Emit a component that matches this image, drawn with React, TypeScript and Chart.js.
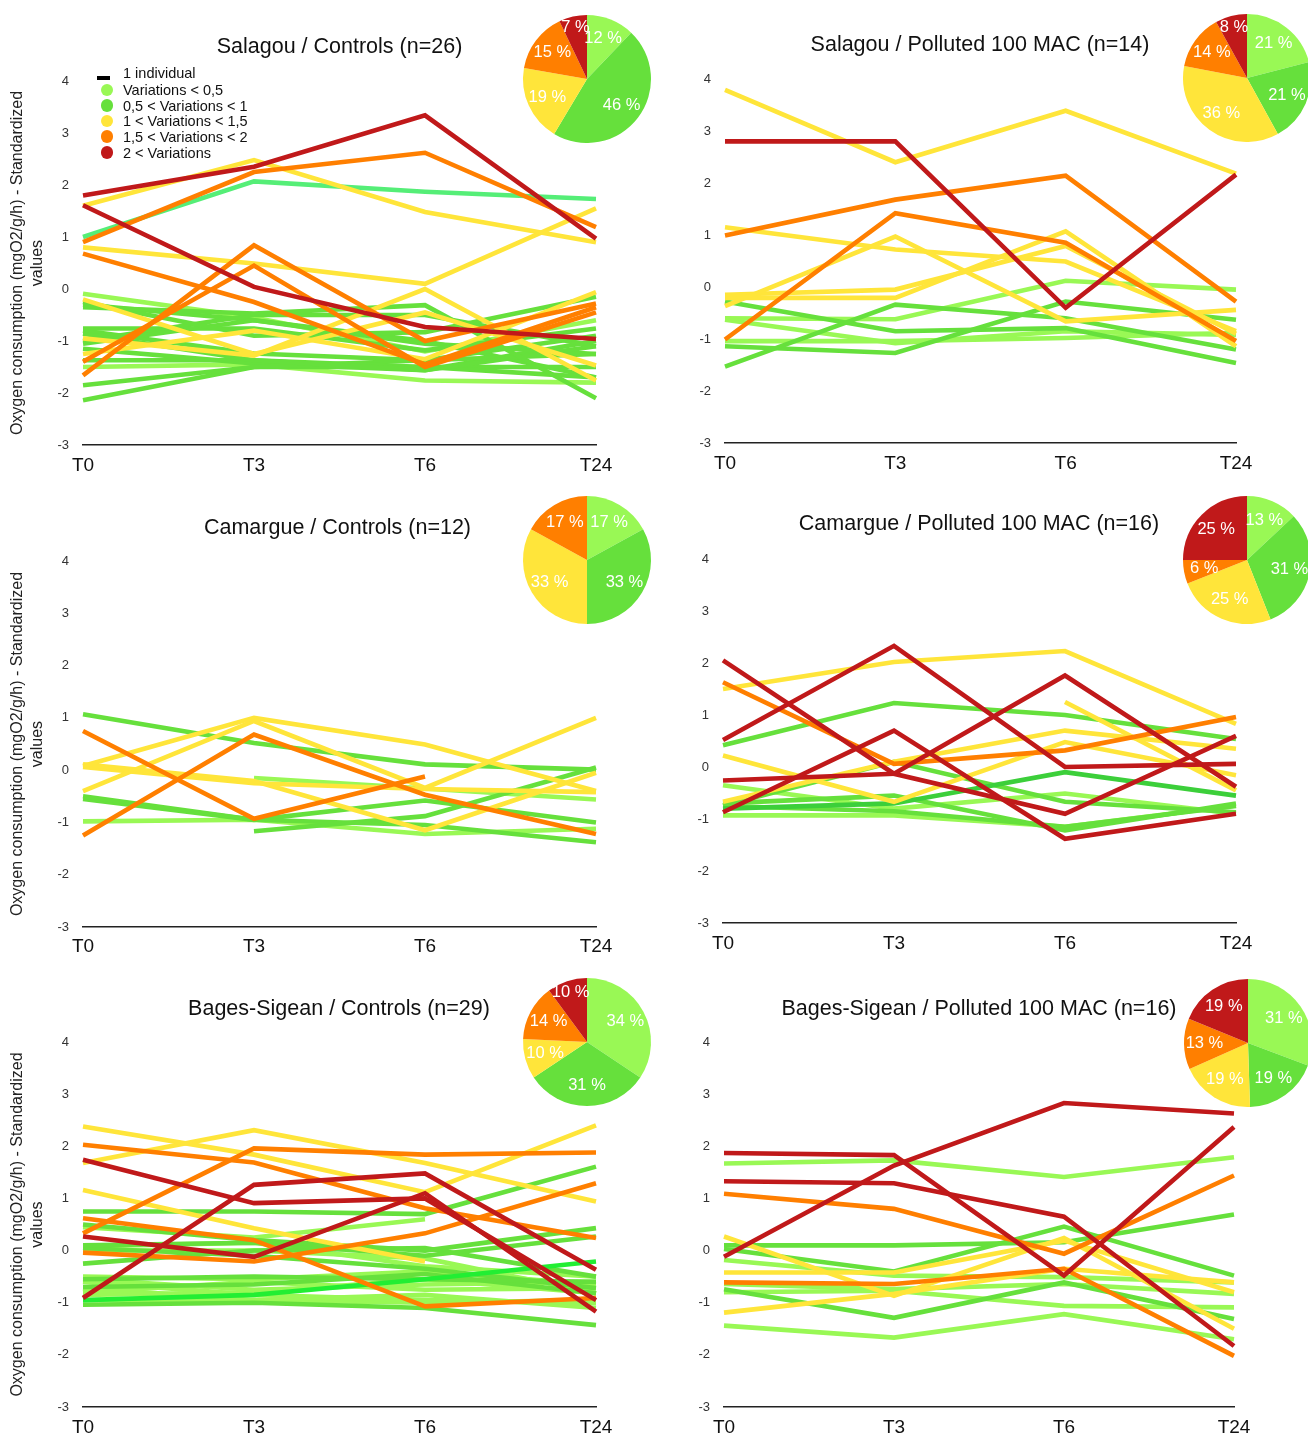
import React, { useEffect, useRef } from "react";
import { Chart, registerables } from "chart.js";

Chart.register(...registerables);

const FONT = '"Liberation Sans", Arial, Helvetica, sans-serif';
Chart.defaults.font.family = FONT;

// ---------- shared labels ----------
const timeLabels = ["T0", "T3", "T6", "T24"];
const yMin = -3;
const yMax = 4;
const yTitleLines = ["Oxygen consumption (mgO2/g/h) - Standardized", "values"];
const legendFirst = "1 individual";
const classLabels = [
  "Variations < 0,5",
  "0,5 < Variations < 1",
  "1 < Variations < 1,5",
  "1,5 < Variations < 2",
  "2 < Variations",
];
const classColors = ["#99F855", "#66E03C", "#FFE53A", "#FF7F00", "#C0191A"];
const tealColor = "#55EE77";
const brightGreenColor = "#22EE33";
const deepGreenColor = "#3CCF3A";

// ---------- Salagou / Controls (n=26) ----------
const salagouCtrlTitle = "Salagou / Controls (n=26)";
const salagouCtrlRed = [
  [1.8, 2.35, 3.34, 0.97],
  [1.61, 0.04, -0.73, -0.96],
];
const salagouCtrlOrange = [
  [0.9, 2.25, 2.62, 1.19],
  [0.68, -0.25, -1.45, -0.35],
  [-1.66, 0.84, -1.0, -0.28],
  [-1.4, 0.45, -1.5, -0.45],
];
const salagouCtrlYellow = [
  [1.6, 2.48, 1.48, 0.9],
  [0.8, 0.49, 0.1, 1.55],
  [-0.2, -1.25, -0.45, -1.47],
  [-1.25, -0.8, -1.35, -0.06],
  [-0.95, -1.28, 0.0, -1.76],
];
const salagouCtrlGreen = [
  [-0.35, -0.47, -0.31, -2.1],
  [-0.25, -0.9, -0.83, -0.15],
  [-0.76, -0.76, -1.18, -0.76],
  [-0.86, -1.37, -1.56, -1.1],
  [-1.05, -0.6, -1.05, -1.25],
  [-1.37, -1.37, -1.5, -1.7],
  [-1.85, -1.5, -1.37, -1.25],
  [-2.14, -1.5, -1.5, -1.5],
  [-0.8, -1.24, -1.37, -0.9],
  [-1.0, -0.5, -0.5, -1.1],
  [-0.3, -0.6, -1.0, -1.7],
  [-1.15, -1.43, -1.56, -1.0],
];
const salagouCtrlLight = [
  [-0.09, -0.55, -1.2, -0.6],
  [-1.5, -1.45, -1.76, -1.8],
];
const salagouCtrlTeal = [[1.0, 2.07, 1.87, 1.73]];
const salagouCtrlPie = [12, 46, 19, 15, 7];

// ---------- Salagou / Polluted 100 MAC (n=14) ----------
const salagouPollTitle = "Salagou / Polluted 100 MAC (n=14)";
const salagouPollRed = [[2.8, 2.8, -0.4, 2.16]];
const salagouPollOrange = [
  [0.99, 1.68, 2.14, -0.28],
  [-1.01, 1.42, 0.85, -1.04],
];
const salagouPollYellow = [
  [3.79, 2.4, 3.39, 2.18],
  [1.15, 0.72, 0.49, -0.85],
  [-0.37, 0.97, -0.66, -0.44],
  [-0.15, -0.05, 0.79, -0.9],
  [-0.21, -0.21, 1.07, -1.14],
];
const salagouPollGreen = [
  [-0.28, -0.85, -0.79, -1.46],
  [-1.14, -1.27, -0.28, -0.63],
  [-1.53, -0.34, -0.6, -1.2],
];
const salagouPollLight = [
  [-0.6, -0.62, 0.12, -0.05],
  [-1.04, -1.04, -0.98, -0.88],
  [-0.63, -1.08, -0.85, -0.92],
];
const salagouPollPie = [21, 21, 36, 14, 8];

// ---------- Camargue / Controls (n=12) ----------
const camargueCtrlTitle = "Camargue / Controls (n=12)";
const camargueCtrlRed: (number | null)[][] = [];
const camargueCtrlOrange = [
  [0.75, -0.93, -0.12, null],
  [-1.25, 0.68, -0.47, -1.22],
];
const camargueCtrlYellow = [
  [0.08, 1.0, 0.49, -0.4],
  [-0.4, 0.94, -0.34, 1.0],
  [0.11, -0.21, -1.15, -0.05],
  [0.06, -0.25, -0.36, -0.42],
];
const camargueCtrlGreen = [
  [1.07, 0.52, 0.11, 0.01],
  [-0.5, -0.95, -1.05, -1.38],
  [-0.55, -0.95, -0.58, -1.0],
  [null, -1.17, -0.88, 0.05],
];
const camargueCtrlLight = [
  [-0.98, -0.95, -1.22, -1.12],
  [null, -0.15, -0.35, -0.56],
];
const camargueCtrlPie = [17, 33, 33, 17, 0];

// ---------- Camargue / Polluted 100 MAC (n=16) ----------
const camarguePollTitle = "Camargue / Polluted 100 MAC (n=16)";
const camarguePollRed = [
  [2.05, -0.13, -0.9, 0.6],
  [0.52, 2.33, 0.0, 0.06],
  [-0.87, 0.7, -1.38, -0.9],
  [-0.26, -0.13, 1.76, -0.38],
];
const camarguePollOrange = [[1.63, 0.06, 0.32, 0.96]];
const camarguePollYellow = [
  [1.5, 2.02, 2.23, 0.83],
  [0.22, -0.67, 0.48, -0.16],
  [-0.67, 0.1, 0.7, 0.35],
  [null, null, 1.25, -0.45],
];
const camarguePollGreen = [
  [0.42, 1.23, 1.0, 0.54],
  [-0.7, -0.55, -1.22, -0.7],
  [-0.74, 0.1, -0.67, -0.87],
  [-0.75, -0.85, -1.15, -0.75],
];
const camarguePollDeep = [[-0.8, -0.7, -0.1, -0.55]];
const camarguePollLight = [
  [-0.35, -0.8, -0.51, -0.9],
  [-0.93, -0.93, -1.15, -0.74],
];
const camarguePollPie = [13, 31, 25, 6, 25];

// ---------- Bages-Sigean / Controls (n=29) ----------
const bagesCtrlTitle = "Bages-Sigean / Controls (n=29)";
const bagesCtrlRed = [
  [1.74, 0.91, 1.0, -0.95],
  [0.27, -0.12, 1.1, -1.17],
  [-0.91, 1.26, 1.48, -0.37],
];
const bagesCtrlOrange = [
  [2.03, 1.69, 0.81, 0.24],
  [0.33, 1.96, 1.84, 1.88],
  [0.62, 0.2, -1.07, -0.91],
  [-0.04, -0.21, 0.33, 1.29],
];
const bagesCtrlYellow = [
  [2.38, 1.84, 1.12, 2.4],
  [1.68, 2.31, 1.68, 0.94],
  [1.16, 0.43, -0.21, null],
];
const bagesCtrlGreen = [
  [0.75, 0.75, 0.7, 1.61],
  [0.5, 0.2, 0.0, 0.43],
  [0.1, 0.15, -0.1, 0.27],
  [-0.25, 0.0, 0.05, -0.5],
  [-0.55, -0.5, -0.55, -0.6],
  [-1.04, -1.0, -1.1, -1.43],
  [0.05, -0.1, -0.35, -0.72],
  [-0.7, -0.65, -0.45, -0.82],
];
const bagesCtrlBright = [[-0.95, -0.85, -0.55, -0.21]];
const bagesCtrlLight = [
  [0.45, 0.25, 0.6, null],
  [0.08, 0.15, -0.3, -0.5],
  [0.0, 0.0, -0.15, -0.82],
  [-0.55, -0.75, -0.65, -0.6],
  [-0.6, -0.85, -0.95, -1.01],
  [-0.8, -0.6, -0.75, -0.72],
  [-0.72, -0.95, -0.85, -1.1],
  [-0.85, -0.8, -0.55, -0.82],
  [-0.95, -0.95, -1.0, -0.95],
  [-0.5, -0.55, -0.4, -0.65],
];
const bagesCtrlPie = [34, 31, 10, 14, 10];

// ---------- Bages-Sigean / Polluted 100 MAC (n=16) ----------
const bagesPollTitle = "Bages-Sigean / Polluted 100 MAC (n=16)";
const bagesPollRed = [
  [-0.12, 1.63, 2.83, 2.63],
  [1.87, 1.83, -0.48, 2.37],
  [1.33, 1.29, 0.65, -1.83],
];
const bagesPollOrange = [
  [1.09, 0.8, -0.06, 1.44],
  [-0.61, -0.64, -0.35, -2.02],
];
const bagesPollYellow = [
  [0.27, -0.87, 0.24, -1.5],
  [-1.19, -0.83, -0.35, -0.61],
  [-0.42, -0.42, 0.19, -0.8],
];
const bagesPollGreen = [
  [0.1, 0.1, 0.16, 0.69],
  [0.03, -0.4, 0.46, -0.48],
  [-0.74, -1.29, -0.61, -1.31],
];
const bagesPollLight = [
  [1.67, 1.73, 1.41, 1.79],
  [-0.18, -0.48, -0.51, -0.61],
  [-0.64, -0.74, -0.64, -0.83],
  [-0.8, -0.77, -1.06, -1.09],
  [-1.44, -1.67, -1.22, -1.7],
];
const bagesPollPie = [31, 19, 19, 13, 19];

// ---------- layout ----------
type Group = { color: string; lines: (number | null)[][] };

type PanelDef = {
  title: string;
  groups: Group[];
  pie: number[];
  x: number;
  y: number;
  h: number;
  yW: number;
  padR: number;
  padT: number;
  xH: number;
  xPad: number;
  yTitle: boolean;
  titleX: number;
  titleY: number;
  pieX: number;
  pieY: number;
};

const grp = (red, orange, yellow, green, light, extra: Group[] = []): Group[] => [
  { color: classColors[4], lines: red },
  { color: classColors[3], lines: orange },
  { color: classColors[2], lines: yellow },
  ...extra,
  { color: classColors[1], lines: green },
  { color: classColors[0], lines: light },
];

const panels: PanelDef[] = [
  {
    title: salagouCtrlTitle,
    groups: grp(salagouCtrlRed, salagouCtrlOrange, salagouCtrlYellow, salagouCtrlGreen, salagouCtrlLight, [
      { color: tealColor, lines: salagouCtrlTeal },
    ]),
    pie: salagouCtrlPie,
    x: 0, y: 0, h: 480, yW: 83, padR: 58, padT: 81, xH: 35, xPad: 9.5, yTitle: true,
    titleX: 339.5, titleY: 46, pieX: 587, pieY: 79,
  },
  {
    title: salagouPollTitle,
    groups: grp(salagouPollRed, salagouPollOrange, salagouPollYellow, salagouPollGreen, salagouPollLight),
    pie: salagouPollPie,
    x: 654, y: 0, h: 480, yW: 71, padR: 72, padT: 79, xH: 37, xPad: 9, yTitle: false,
    titleX: 980, titleY: 44, pieX: 1247, pieY: 78,
  },
  {
    title: camargueCtrlTitle,
    groups: grp(camargueCtrlRed, camargueCtrlOrange, camargueCtrlYellow, camargueCtrlGreen, camargueCtrlLight),
    pie: camargueCtrlPie,
    x: 0, y: 480, h: 480, yW: 83, padR: 58, padT: 81, xH: 33, xPad: 8.5, yTitle: true,
    titleX: 337.5, titleY: 527, pieX: 587, pieY: 560,
  },
  {
    title: camarguePollTitle,
    groups: grp(camarguePollRed, camarguePollOrange, camarguePollYellow, camarguePollGreen, camarguePollLight, [
      { color: deepGreenColor, lines: camarguePollDeep },
    ]),
    pie: camarguePollPie,
    x: 654, y: 480, h: 480, yW: 69, padR: 72, padT: 79, xH: 37, xPad: 9, yTitle: false,
    titleX: 979, titleY: 523, pieX: 1247, pieY: 560,
  },
  {
    title: bagesCtrlTitle,
    groups: grp(bagesCtrlRed, bagesCtrlOrange, bagesCtrlYellow, bagesCtrlGreen, bagesCtrlLight, [
      { color: brightGreenColor, lines: bagesCtrlBright },
    ]),
    pie: bagesCtrlPie,
    x: 0, y: 960, h: 477, yW: 83, padR: 58, padT: 82, xH: 30, xPad: 9.8, yTitle: true,
    titleX: 339, titleY: 1008, pieX: 587, pieY: 1042,
  },
  {
    title: bagesPollTitle,
    groups: grp(bagesPollRed, bagesPollOrange, bagesPollYellow, bagesPollGreen, bagesPollLight),
    pie: bagesPollPie,
    x: 654, y: 960, h: 477, yW: 70, padR: 74, padT: 82, xH: 30, xPad: 9.8, yTitle: false,
    titleX: 979, titleY: 1008, pieX: 1248, pieY: 1043,
  },
];

function buildDatasets(groups: Group[]) {
  const out: any[] = [];
  groups.forEach((g) =>
    g.lines.forEach((l) =>
      out.push({
        data: l,
        borderColor: g.color,
        backgroundColor: g.color,
        borderWidth: 4.6,
        pointRadius: 0,
        pointHoverRadius: 0,
        fill: false,
        tension: 0,
        spanGaps: false,
        borderJoinStyle: "miter",
        borderCapStyle: "butt",
      })
    )
  );
  return out;
}

function LinePanel({ p }: { p: PanelDef }) {
  const ref = useRef<HTMLCanvasElement>(null);
  useEffect(() => {
    const chart = new Chart(ref.current!, {
      type: "line",
      data: { labels: timeLabels, datasets: buildDatasets(p.groups) },
      options: {
        responsive: false,
        maintainAspectRatio: false,
        animation: false,
        events: [],
        layout: { padding: { left: 0, right: p.padR, top: p.padT, bottom: 0 } },
        plugins: {
          legend: { display: false },
          title: { display: false },
          tooltip: { enabled: false },
        },
        scales: {
          x: {
            type: "category",
            offset: false,
            grid: { display: false, drawTicks: false },
            border: { display: true, color: "#222", width: 1.5 },
            ticks: {
              font: { size: 19, family: FONT },
              color: "#111",
              padding: p.xPad,
              maxRotation: 0,
              autoSkip: false,
            },
            afterFit: (s: any) => {
              s.height = p.xH;
            },
          },
          y: {
            min: yMin,
            max: yMax,
            grid: { display: false, drawTicks: false },
            border: { display: false },
            ticks: {
              stepSize: 1,
              font: { size: 13, family: FONT },
              color: "#333",
              padding: 14,
            },
            title: p.yTitle
              ? {
                  display: true,
                  text: yTitleLines,
                  font: { size: 16, family: FONT },
                  color: "#222",
                  padding: { top: 8.4, bottom: 0 },
                }
              : { display: false },
            afterFit: (s: any) => {
              s.width = p.yW;
            },
          },
        },
      },
    } as any);
    return () => chart.destroy();
  }, []);
  return (
    <canvas
      ref={ref}
      width={654}
      height={p.h}
      style={{ position: "absolute", left: p.x, top: p.y, width: 654, height: p.h }}
    />
  );
}

const pieLabelPlugin = {
  id: "pieLabels",
  afterDatasetsDraw(chart: any) {
    const ctx = chart.ctx;
    const meta = chart.getDatasetMeta(0);
    const data = chart.data.datasets[0].data as number[];
    meta.data.forEach((arc: any, i: number) => {
      const v = data[i];
      if (!v) return;
      const { x, y, startAngle, endAngle, outerRadius } = arc.getProps(
        ["x", "y", "startAngle", "endAngle", "outerRadius"],
        true
      );
      const mid = (startAngle + endAngle) / 2;
      const small = v <= 10 && Math.sin(mid) < -0.7;
      const rr = outerRadius * (small ? 0.82 : 0.68);
      ctx.save();
      ctx.fillStyle = "#ffffff";
      ctx.font = `16.5px ${FONT}`;
      ctx.textAlign = "center";
      ctx.textBaseline = "middle";
      ctx.fillText(`${v} %`, x + Math.cos(mid) * rr, y + Math.sin(mid) * rr);
      ctx.restore();
    });
  },
};

function PiePanel({ p }: { p: PanelDef }) {
  const ref = useRef<HTMLCanvasElement>(null);
  useEffect(() => {
    const chart = new Chart(ref.current!, {
      type: "pie",
      data: {
        labels: classLabels,
        datasets: [
          {
            data: p.pie,
            backgroundColor: classColors,
            borderWidth: 0,
            hoverOffset: 0,
            offset: 0,
          },
        ],
      },
      options: {
        responsive: false,
        maintainAspectRatio: false,
        animation: false,
        events: [],
        layout: { padding: 0 },
        plugins: { legend: { display: false }, tooltip: { enabled: false } },
      },
      plugins: [pieLabelPlugin],
    } as any);
    return () => chart.destroy();
  }, []);
  return (
    <canvas
      ref={ref}
      width={170}
      height={128}
      style={{ position: "absolute", left: p.pieX - 85, top: p.pieY - 64, width: 170, height: 128 }}
    />
  );
}

function Title({ p }: { p: PanelDef }) {
  return (
    <div
      style={{
        position: "absolute",
        left: p.titleX - 250,
        top: p.titleY - 13,
        width: 500,
        height: 26,
        lineHeight: "26px",
        textAlign: "center",
        fontFamily: FONT,
        fontSize: 21.5,
        color: "#111",
        whiteSpace: "nowrap",
      }}
    >
      {p.title}
    </div>
  );
}

function Legend() {
  const rowY = [90, 105.5, 121, 136.5, 152.5];
  const textStyle: React.CSSProperties = {
    position: "absolute",
    left: 123,
    height: 16,
    lineHeight: "16px",
    fontFamily: FONT,
    fontSize: 14.5,
    color: "#111",
    whiteSpace: "nowrap",
  };
  return (
    <>
      <div style={{ position: "absolute", left: 97, top: 76, width: 13, height: 3.5, background: "#000" }} />
      <div style={{ ...textStyle, top: 72.5 - 8 }}>{legendFirst}</div>
      {classLabels.map((lab, i) => (
        <React.Fragment key={lab}>
          <div
            style={{
              position: "absolute",
              left: 107 - 6.4,
              top: rowY[i] - 6.4,
              width: 12.8,
              height: 12.8,
              borderRadius: "50%",
              background: classColors[i],
            }}
          />
          <div style={{ ...textStyle, top: rowY[i] - 8 }}>{lab}</div>
        </React.Fragment>
      ))}
    </>
  );
}

export default function App() {
  return (
    <div
      style={{
        position: "absolute",
        left: 0,
        top: 0,
        width: 1308,
        height: 1437,
        overflow: "hidden",
        background: "#ffffff",
      }}
    >
      {panels.map((p, i) => (
        <LinePanel key={"l" + i} p={p} />
      ))}
      {panels.map((p, i) => (
        <Title key={"t" + i} p={p} />
      ))}
      {panels.map((p, i) => (
        <PiePanel key={"p" + i} p={p} />
      ))}
      <Legend />
    </div>
  );
}
